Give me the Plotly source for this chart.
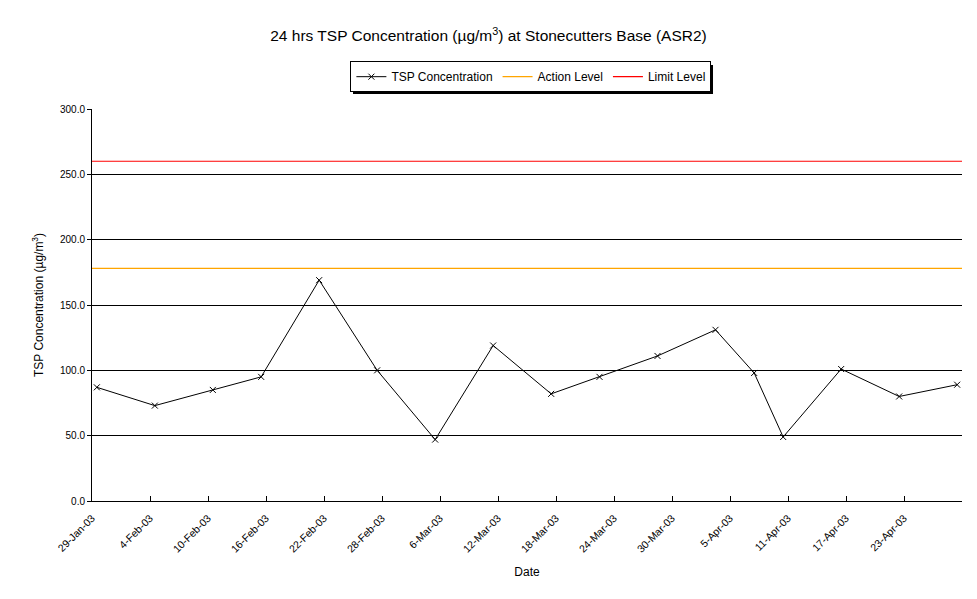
import plotly.graph_objects as go
import pandas as pd

# ---- data ----
sample_dates = ["2003-01-29", "2003-02-04", "2003-02-10", "2003-02-15", "2003-02-21",
                "2003-02-27", "2003-03-05", "2003-03-11", "2003-03-17", "2003-03-22",
                "2003-03-28", "2003-04-03", "2003-04-07", "2003-04-10", "2003-04-16",
                "2003-04-22", "2003-04-28"]
tsp_values = [87, 73, 85, 95, 169, 100, 47, 119, 82, 95, 111, 131, 98, 49, 101, 80, 89]
action_level = 178
limit_level = 260
tick_dates = ["2003-01-29", "2003-02-04", "2003-02-10", "2003-02-16", "2003-02-22",
              "2003-02-28", "2003-03-06", "2003-03-12", "2003-03-18", "2003-03-24",
              "2003-03-30", "2003-04-05", "2003-04-11", "2003-04-17", "2003-04-23",
              "2003-04-29"]
tick_labels = ["29-Jan-03", "4-Feb-03", "10-Feb-03", "16-Feb-03", "22-Feb-03",
               "28-Feb-03", "6-Mar-03", "12-Mar-03", "18-Mar-03", "24-Mar-03",
               "30-Mar-03", "5-Apr-03", "11-Apr-03", "17-Apr-03", "23-Apr-03", ""]
y_ticks = [0, 50, 100, 150, 200, 250, 300]
x_start, x_end = "2003-01-29", "2003-04-29"

FONT = "Liberation Sans, Arial, sans-serif"

# points sit at the middle of each day (Excel date axis, between tick marks)
x_pts = pd.to_datetime(sample_dates) + pd.Timedelta(hours=12)

fig = go.Figure()
fig.add_trace(go.Scatter(
    x=x_pts, y=tsp_values, mode="lines+markers", name="TSP Concentration",
    line=dict(color="black", width=1),
    marker=dict(symbol="x-thin-open", size=6, color="black", line=dict(color="black", width=1)),
))
fig.add_trace(go.Scatter(
    x=[x_start, x_end], y=[action_level, action_level], mode="lines", name="Action Level",
    line=dict(color="#FFA500", width=1.2),
))
fig.add_trace(go.Scatter(
    x=[x_start, x_end], y=[limit_level, limit_level], mode="lines", name="Limit Level",
    line=dict(color="#FF0000", width=1.2),
))

fig.update_layout(
    width=977, height=599,
    margin=dict(l=92, r=15, t=109, b=98),
    paper_bgcolor="white", plot_bgcolor="white",
    font=dict(family=FONT, color="black", size=11),
    title=dict(text="24 hrs TSP Concentration (µg/m<sup>3</sup>) at Stonecutters Base (ASR2)",
               x=0.5, xanchor="center", y=0.94, yanchor="middle",
               font=dict(size=15.5, family=FONT, color="black")),
    showlegend=True,
    legend=dict(orientation="h", x=0.297, xanchor="left", y=1.122, yanchor="top",
                bgcolor="white", bordercolor="black", borderwidth=1,
                font=dict(size=12, family=FONT, color="black"),
                itemwidth=30, tracegroupgap=0),
    shapes=[dict(type="rect", xref="paper", yref="paper",
                 x0=0.300, x1=0.7138, y0=1.0383, y1=1.1122,
                 fillcolor="black", line=dict(width=0), layer="below")],
)

fig.update_xaxes(
    type="date", range=[x_start, x_end],
    tickmode="array", tickvals=tick_dates, ticktext=tick_labels,
    tickangle=-45, tickfont=dict(size=10.5, family=FONT),
    ticks="inside", ticklen=5, tickcolor="black",
    ticklabelstandoff=6,
    showline=True, linecolor="black", linewidth=1,
    showgrid=False, zeroline=False,
    title=dict(text="Date", font=dict(size=12, family=FONT), standoff=13),
)
fig.update_yaxes(
    range=[0, 300], tickmode="array", tickvals=y_ticks,
    tickformat=".1f", tickfont=dict(size=10, family=FONT),
    ticks="outside", ticklen=4, tickcolor="black",
    showline=True, linecolor="black", linewidth=1,
    showgrid=True, gridcolor="black", gridwidth=1, zeroline=False,
    title=dict(text="TSP Concentration (µg/m<sup>3</sup>)", font=dict(size=12, family=FONT), standoff=13),
)

fig.write_html("out.html")
